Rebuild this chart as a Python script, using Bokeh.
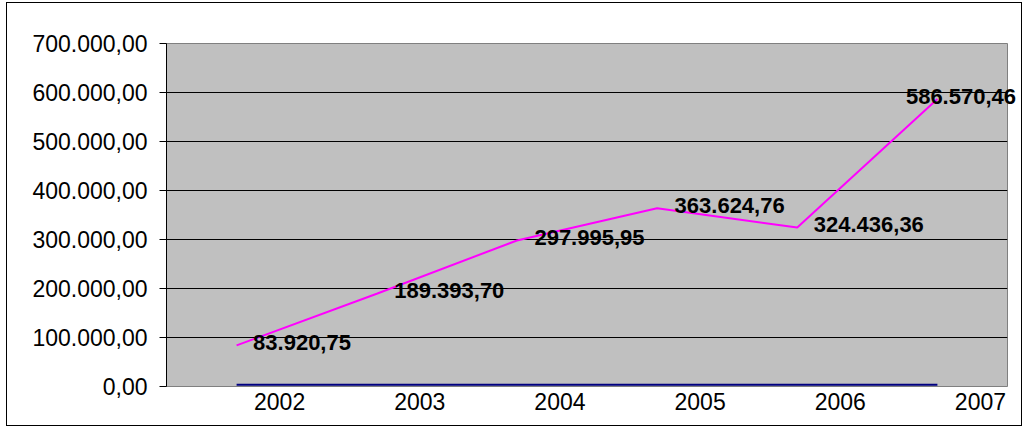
from bokeh.plotting import figure
from bokeh.models import Range1d, FixedTicker, LinearAxis, ColumnDataSource, LabelSet
from bokeh.core.properties import value
from bokeh.embed import file_html
from bokeh.resources import INLINE
try:
    from bokeh.models import HTMLLabelSet as LabelCls
except ImportError:
    LabelCls = LabelSet

years = ["2002", "2003", "2004", "2005", "2006", "2007"]
series_main = [83920.75, 189393.70, 297995.95, 363624.76, 324436.36, 586570.46]
main_labels = ["83.920,75", "189.393,70", "297.995,95", "363.624,76", "324.436,36", "586.570,46"]
series_low = [3500, 3500, 3500, 3500, 3500, 3500]
y_ticks = [0, 100000, 200000, 300000, 400000, 500000, 600000, 700000]
y_tick_labels = ["0,00", "100.000,00", "200.000,00", "300.000,00", "400.000,00",
                 "500.000,00", "600.000,00", "700.000,00"]

xpos = [i + 0.5 for i in range(len(years))]
label_dx = [17, 18, 18, 18, 17, -31]

p = figure(width=1014, height=422, frame_width=841, frame_height=343,
           x_range=Range1d(0, 6), y_range=Range1d(0, 700000),
           output_backend="svg", toolbar_location=None,
           min_border_left=159, min_border_top=40, min_border_right=14, min_border_bottom=39,
           background_fill_color="#C0C0C0", border_fill_color="white",
           margin=(3, 0, 0, 7))
p.styles = {"outline": "1px solid #000000"}
p.outline_line_color = "#808080"
p.outline_line_width = 1

p.xaxis.visible = False
p.xgrid.visible = False
p.ygrid.ticker = FixedTicker(ticks=y_ticks)
p.ygrid.grid_line_color = "#000000"
p.ygrid.grid_line_width = 1

ya = p.yaxis[0]
ya.ticker = FixedTicker(ticks=y_ticks)
ya.major_label_overrides = {t: s for t, s in zip(y_ticks, y_tick_labels)}
ya.major_label_text_font = "Liberation Sans"
ya.major_label_text_font_size = "23px"
ya.major_label_text_color = "#000000"
ya.major_label_standoff = 12
ya.major_tick_in = 0
ya.major_tick_out = 7
ya.minor_tick_out = 0
ya.minor_tick_in = 0
ya.axis_line_color = "#000000"
ya.major_tick_line_color = "#000000"

# category labels drawn on a shifted range, as in the original
p.extra_x_ranges = {"lab": Range1d(-0.307, 5.693)}
xa = LinearAxis(x_range_name="lab", ticker=FixedTicker(ticks=xpos),
                major_label_overrides={x: y for x, y in zip(xpos, years)})
xa.major_label_text_font = "Liberation Sans"
xa.major_label_text_font_size = "23px"
xa.major_label_text_color = "#000000"
xa.major_label_standoff = 6
xa.major_tick_in = 0
xa.major_tick_out = 0
xa.minor_tick_in = 0
xa.minor_tick_out = 0
xa.axis_line_color = None
p.add_layout(xa, "below")

p.line(xpos, series_low, line_color="#000080", line_width=2)
p.line(xpos, series_main, line_color="#FF00FF", line_width=2)

src = ColumnDataSource(dict(x=xpos, y=series_main, t=main_labels, dx=label_dx))
labels = LabelCls(x="x", y="y", text="t", x_offset="dx", y_offset=2, source=src,
                  text_font=value("Liberation Sans"), text_font_style="bold",
                  text_font_size="22px", text_align="left", text_baseline="middle",
                  text_color="#000000")
p.add_layout(labels)

open("out.html", "w").write(file_html(p, INLINE))
